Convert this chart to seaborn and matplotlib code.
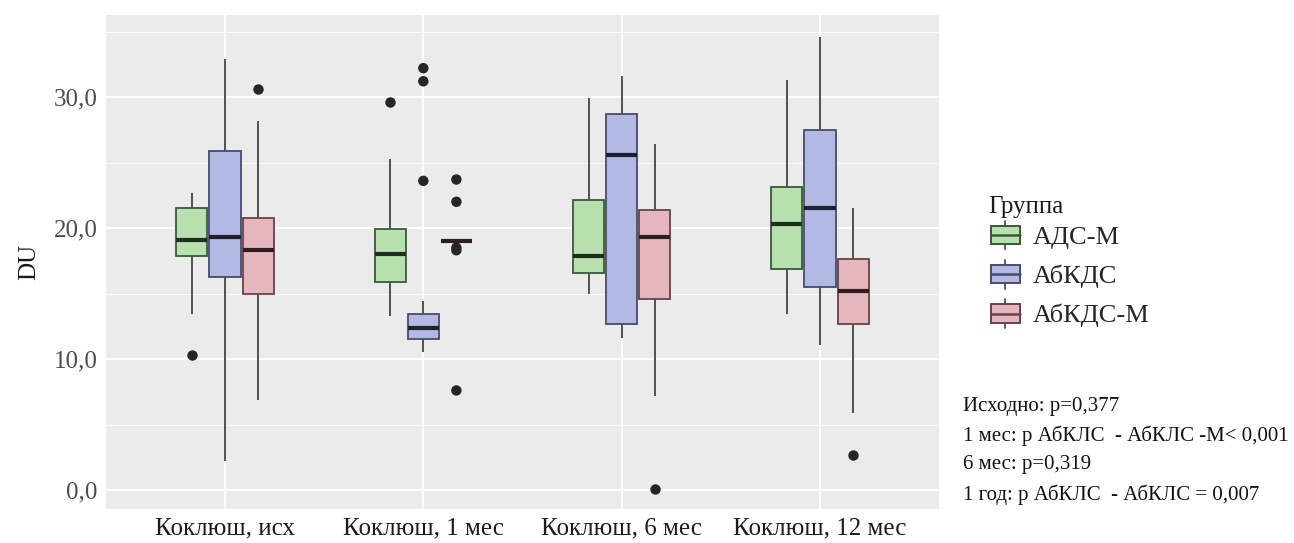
import numpy as np
import pandas as pd
import matplotlib
matplotlib.use("Agg")
import matplotlib.pyplot as plt
from matplotlib.patches import Patch, Rectangle
from matplotlib.lines import Line2D
from matplotlib.legend_handler import HandlerPatch
from matplotlib.ticker import FuncFormatter, MultipleLocator
import seaborn as sns

times = ["Коклюш, исх", "Коклюш, 1 мес", "Коклюш, 6 мес", "Коклюш, 12 мес"]
groups = ["АДС-М", "АбКДС", "АбКДС-М"]

# box stats per time point: whisker low, Q1, median, Q3, whisker high
ads_m = [[13.4, 17.9, 19.1, 21.5, 22.7],
         [13.3, 15.9, 18.0, 19.9, 25.3],
         [15.0, 16.6, 17.9, 22.1, 29.9],
         [13.4, 16.9, 20.3, 23.1, 31.3]]
abkds = [[2.2, 16.25, 19.3, 25.9, 32.9],
         [10.5, 11.5, 12.4, 13.4, 14.4],
         [11.6, 12.7, 25.6, 28.7, 31.6],
         [11.1, 15.5, 21.5, 27.5, 34.6]]
abkds_m = [[6.9, 15.0, 18.3, 20.8, 28.2],
           [19.0, 19.0, 19.0, 19.0, 19.0],
           [7.2, 14.6, 19.3, 21.4, 26.4],
           [5.9, 12.7, 15.2, 17.6, 21.5]]

# outliers per time point
ads_m_out = [[10.3], [29.65], [], []]
abkds_out = [[], [32.2, 31.2, 23.6], [], []]
abkds_m_out = [[30.6], [23.7, 22.0, 18.5, 18.3, 7.6], [0.1], [2.7]]

notes = ["Исходно: p=0,377",
         "1 мес: p АбКЛС  - АбКЛС -М< 0,001",
         "6 мес: p=0,319",
         "1 год: p АбКЛС  - АбКЛС = 0,007"]

fill = {"АДС-М": "#b6e0ae", "АбКДС": "#b2b9e3", "АбКДС-М": "#e6b6bf"}
edge = {"АДС-М": "#3b573b", "АбКДС": "#464c70", "АбКДС-М": "#6a4048"}


# legend glyph like ggplot's box key
class BoxKey(HandlerPatch):
    def create_artists(self, legend, orig_handle, xdescent, ydescent,
                       width, height, fontsize, trans):
        ec = orig_handle.get_edgecolor()
        fc = orig_handle.get_facecolor()
        x0, y0 = -xdescent, -ydescent
        rect = Rectangle((x0, y0 + height * 0.18), width, height * 0.64,
                         facecolor=fc, edgecolor=ec, lw=1.4, transform=trans)
        med = Line2D([x0, x0 + width], [y0 + height / 2] * 2, color=ec, lw=1.8, transform=trans)
        wt = Line2D([x0 + width / 2] * 2, [y0 + height * 0.82, y0 + height], color=ec, lw=1.3, transform=trans)
        wb = Line2D([x0 + width / 2] * 2, [y0, y0 + height * 0.18], color=ec, lw=1.3, transform=trans)
        return [rect, med, wt, wb]


def make_frames():
    box_rows = []
    out_rows = []
    for g, stats, outs in zip(groups, [ads_m, abkds, abkds_m], [ads_m_out, abkds_out, abkds_m_out]):
        for t, s, o in zip(times, stats, outs):
            for v in s:
                box_rows.append((t, g, v))
            for v in o:
                out_rows.append((t, g, v))
    cols = ["Время", "Группа", "DU"]
    return pd.DataFrame(box_rows, columns=cols), pd.DataFrame(out_rows, columns=cols)


def main():
    sns.set_theme(style="darkgrid", rc={"axes.facecolor": "#EBEBEB",
                                        "grid.color": "white"})
    plt.rcParams["font.family"] = ["Liberation Serif", "DejaVu Serif"]

    box_df, out_df = make_frames()

    fig = plt.figure(figsize=(12.94, 5.43), dpi=100)
    ax = fig.add_axes([106 / 1294, 1 - 509 / 543, (939 - 106) / 1294, (509 - 15) / 543])

    sns.boxplot(data=box_df, x="Время", y="DU", hue="Группа", order=times,
                hue_order=groups, palette=fill, width=0.5, gap=0.06,
                whis=(0, 100), showfliers=False, showcaps=False,
                saturation=1, linewidth=1.3, legend=False, ax=ax)

    for cont, g in zip(ax.containers, groups):
        for b in cont.boxes:
            b.set_edgecolor(edge[g])
        for w in cont.whiskers:
            w.set_color("#505050")
            w.set_linewidth(1.4)
        for m in cont.medians:
            m.set_linewidth(3.0)
            m.set_color(sns.set_hls_values(edge[g], l=0.15))

    sns.stripplot(data=out_df, x="Время", y="DU", hue="Группа", order=times,
                  hue_order=groups, palette={g: "#262626" for g in groups},
                  dodge=True, jitter=False, size=7.5, linewidth=0,
                  legend=False, ax=ax)

    # stripplot dodges over 0.8 width, boxes use 0.5 -> pull points in
    for coll in ax.collections:
        off = np.asarray(coll.get_offsets(), dtype=float)
        if len(off) == 0:
            continue
        c = np.round(off[:, 0])
        off[:, 0] = c + (off[:, 0] - c) * 0.5 / 0.8
        coll.set_offsets(off)

    ax.set_xlim(-0.6, 3.6)
    ax.set_ylim(-1.45, 36.26)
    ax.yaxis.set_major_locator(MultipleLocator(10))
    ax.yaxis.set_minor_locator(MultipleLocator(5))
    ax.yaxis.set_major_formatter(FuncFormatter(lambda v, p: f"{v:.1f}".replace(".", ",")))
    ax.grid(which="major", color="white", linewidth=1.3)
    ax.grid(which="minor", axis="y", color="white", linewidth=0.6)
    ax.xaxis.grid(True)
    ax.set_axisbelow(True)
    for s in ax.spines.values():
        s.set_visible(False)

    ax.tick_params(axis="both", which="major", length=3, width=1.1,
                   color="#333333", labelcolor="#4D4D4D", labelsize=18, pad=3)
    ax.tick_params(axis="x", labelcolor="#1a1a1a")
    ax.tick_params(which="minor", length=0)
    ax.set_xlabel("")
    ax.set_ylabel("DU", fontsize=18, color="#1a1a1a", labelpad=10)

    # legend: title placed apart so the first key sits close under it
    fig.text(988 / 1294, 1 - 207 / 543, "Группа", fontsize=18,
             color="#1a1a1a", va="center", ha="left")
    handles = [Patch(facecolor=fill[g], edgecolor=edge[g]) for g in groups]
    fig.legend(handles, groups, loc="upper left",
               bbox_to_anchor=(980 / 1294, 1 - 210 / 543), frameon=False,
               fontsize=19, handlelength=1.1, handleheight=1.3,
               handletextpad=0.5, labelspacing=0.4, borderaxespad=0,
               handler_map={Patch: BoxKey()})

    for i, txt in enumerate(notes):
        fig.text(963 / 1294, 1 - (406 + i * 29.5) / 543, txt, fontsize=15,
                 color="#111111", va="center", ha="left")

    fig.savefig("out.png", dpi=100)


if __name__ == "__main__":
    main()
